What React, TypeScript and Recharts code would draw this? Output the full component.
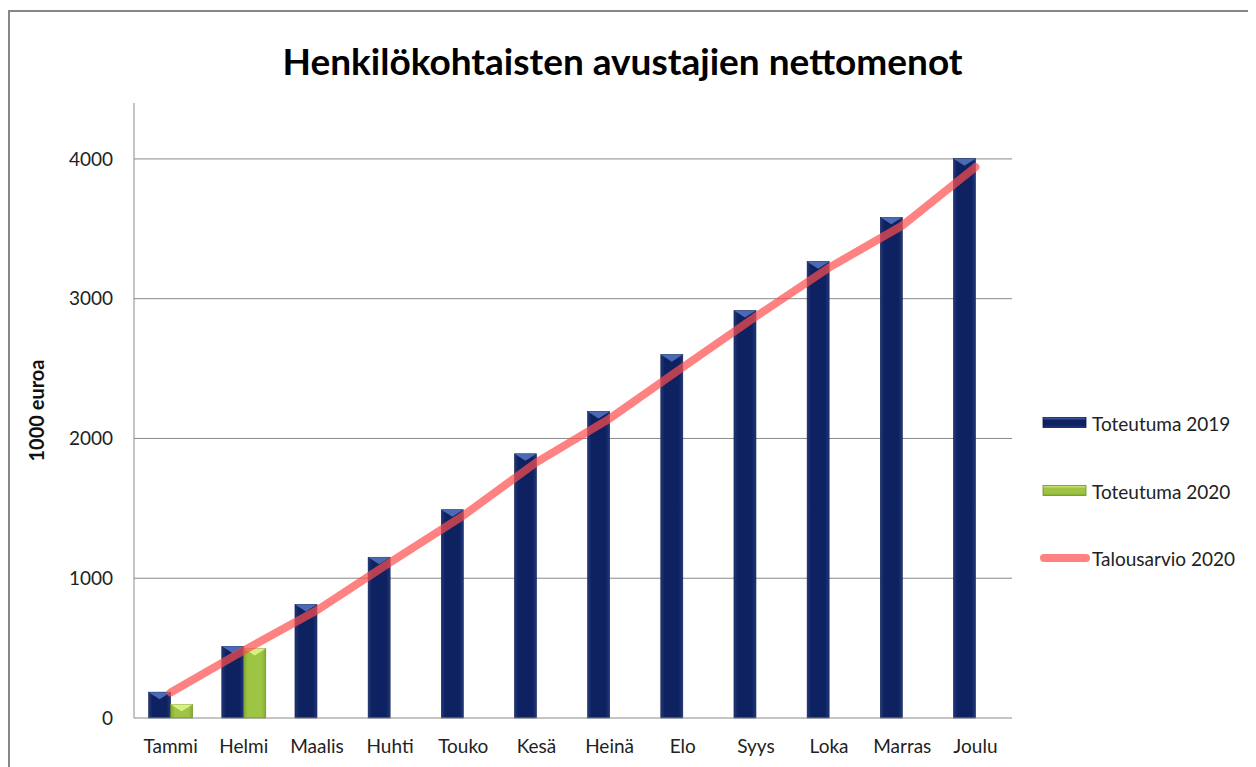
import React from 'react';
import { ComposedChart, Bar, Line, XAxis, YAxis, CartesianGrid } from 'recharts';

const months = ['Tammi', 'Helmi', 'Maalis', 'Huhti', 'Touko', 'Kesä', 'Heinä', 'Elo', 'Syys', 'Loka', 'Marras', 'Joulu'];
const toteutuma2019 = [185, 513, 812, 1150, 1490, 1890, 2193, 2600, 2915, 3265, 3582, 4002];
const toteutuma2020: (number | null)[] = [97, 497, null, null, null, null, null, null, null, null, null, null];
const talousarvio2020 = [183, 483, 770, 1113, 1448, 1830, 2142, 2510, 2872, 3222, 3523, 3942];
const yTicks = [0, 1000, 2000, 3000, 4000];
const yMax = 4400;

const data = months.map((m, i) => ({
  month: m,
  t2019: toteutuma2019[i],
  t2020: toteutuma2020[i],
  budget: talousarvio2020[i],
}));

const FONT = 'Lato, "Open Sans", sans-serif';

type BarColors = { id: string; edge: string; body: string; top: string; stroke: string };
const blueC: BarColors = { id: 'gBlue', edge: '#22387a', body: '#0e2262', top: '#4a6bb4', stroke: '#0a1a4c' };
const greenC: BarColors = { id: 'gGreen', edge: '#84a832', body: '#9dc443', top: '#d9ef86', stroke: '#6d8d27' };

const makeShape = (c: BarColors) => (props: any) => {
  const { x, y, width, height } = props;
  if (height == null || height <= 0 || width <= 0) return <g />;
  const b = Math.min(width * 0.32, height / 2);
  return (
    <g>
      <defs>
        <linearGradient id={c.id} x1="0" x2="1" y1="0" y2="0">
          <stop offset="0" stopColor={c.edge} />
          <stop offset="0.18" stopColor={c.body} />
          <stop offset="0.82" stopColor={c.body} />
          <stop offset="1" stopColor={c.edge} />
        </linearGradient>
      </defs>
      <rect x={x} y={y} width={width} height={height} fill={`url(#${c.id})`} stroke={c.stroke} strokeWidth={0.6} />
      <polygon points={`${x},${y} ${x + width},${y} ${x + width / 2},${y + b}`} fill={c.top} />
    </g>
  );
};

const YLabel = (props: any) => {
  const vb = props.viewBox || {};
  const cy = vb.y + vb.height / 2;
  const cx = 28;
  return (
    <text x={cx} y={cy} transform={`rotate(-90, ${cx}, ${cy})`} textAnchor="middle" dominantBaseline="central"
      style={{ fontFamily: FONT, fontWeight: 700, fontSize: 20, fill: '#111' }}>
      1000 euroa
    </text>
  );
};

const legendItems = [
  { label: 'Toteutuma 2019', kind: 'bar', c: blueC },
  { label: 'Toteutuma 2020', kind: 'bar', c: greenC },
  { label: 'Talousarvio 2020', kind: 'line' },
];

const gridCoords = (args: any) => {
  const scale = args?.yAxis?.scale;
  const off = args?.offset;
  return yTicks.filter((t) => t > 0).map((t) => {
    if (typeof scale === 'function') return scale(t);
    if (scale && typeof scale.map === 'function') return scale.map(t);
    return off.top + off.height * (1 - t / yMax);
  });
};

export default function App() {
  return (
    <div style={{ position: 'relative', width: 1248, height: 759, overflow: 'hidden', background: '#fff' }}>
      <div style={{ position: 'absolute', left: 0, top: 2, width: 1400, height: 900, borderTop: '2px solid #878787', borderLeft: '2px solid #878787', boxSizing: 'border-box' }} />
      <div style={{ position: 'absolute', left: 0, width: 1229, top: 30, textAlign: 'center', fontFamily: FONT, fontWeight: 700, fontSize: 37, color: '#000' }}>
        Henkilökohtaisten avustajien nettomenot
      </div>
      <div style={{ position: 'absolute', left: 0, top: 0 }}>
        <ComposedChart width={1248} height={759} data={data} margin={{ top: 95, right: 244, left: 0, bottom: 19 }}
          barCategoryGap="20%" barGap={0}>
          <CartesianGrid vertical={false} stroke="#8a8a8a" strokeWidth={1} horizontalCoordinatesGenerator={gridCoords} />
          <XAxis dataKey="month" height={30} tickSize={0} tickMargin={22} axisLine={{ stroke: '#8a8a8a' }} tickLine={false}
            tick={{ fontFamily: FONT, fontSize: 19, fill: '#222' }} interval={0} />
          <YAxis domain={[0, yMax]} ticks={yTicks} width={126} tickSize={0} tickMargin={21} axisLine={{ stroke: '#8a8a8a' }} tickLine={false}
            tick={{ fontFamily: FONT, fontSize: 19, fill: '#222' }} label={<YLabel />} />
          <Bar dataKey="t2019" shape={makeShape(blueC)} isAnimationActive={false} />
          <Bar dataKey="t2020" shape={makeShape(greenC)} isAnimationActive={false} />
          <Line dataKey="budget" type="linear" stroke="#ff4d4d" strokeOpacity={0.7} strokeWidth={8} strokeLinecap="round"
            dot={false} activeDot={false} isAnimationActive={false} />
        </ComposedChart>
      </div>
      {legendItems.map((it, i) => {
        const cy = [415, 483, 550][i];
        return (
          <div key={it.label} style={{ position: 'absolute', left: 1032, top: cy - 14, height: 28, display: 'flex', alignItems: 'center' }}>
            {it.kind === 'bar' ? (
              <svg width={50} height={14} style={{ display: 'block' }}>
                <defs>
                  <linearGradient id={`lg${i}`} x1="0" x2="0" y1="0" y2="1">
                    <stop offset="0" stopColor={it.c!.top} />
                    <stop offset="0.3" stopColor={it.c!.body} />
                    <stop offset="0.75" stopColor={it.c!.body} />
                    <stop offset="1" stopColor={it.c!.edge} />
                  </linearGradient>
                </defs>
                <rect x={3} y={1.5} width={43} height={10} fill={`url(#lg${i})`} stroke={it.c!.stroke} strokeWidth={0.8} />
              </svg>
            ) : (
              <svg width={50} height={14} style={{ display: 'block' }}>
                <line x1={4} y1={7} x2={46} y2={7} stroke="#ff4d4d" strokeOpacity={0.7} strokeWidth={8} strokeLinecap="round" />
              </svg>
            )}
            <span style={{ fontFamily: FONT, fontSize: 19, color: '#222', marginLeft: 2, whiteSpace: 'nowrap' }}>{it.label}</span>
          </div>
        );
      })}
    </div>
  );
}
